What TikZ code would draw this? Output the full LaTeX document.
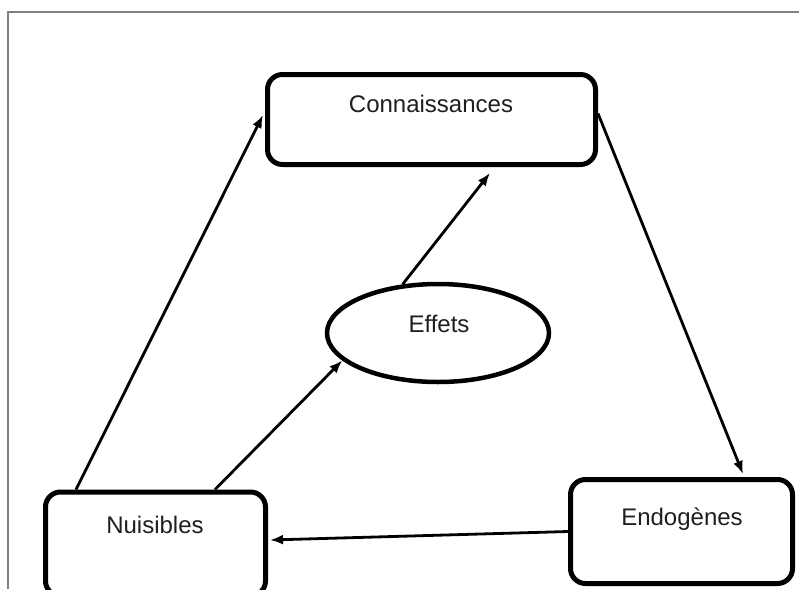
\documentclass[tikz,border=0pt]{standalone}
\usepackage{fontspec}
\setmainfont{Liberation Sans}
\usetikzlibrary{arrows.meta,shapes.geometric}
\begin{document}
\begin{tikzpicture}[x=1pt,y=-1pt,
  box/.style={draw=black,line width=5pt,rounded corners=15pt,fill=white,inner sep=0pt},
  oval/.style={ellipse,draw=black,line width=4.5pt,fill=white,inner sep=0pt},
  lbl/.style={font=\fontsize{24}{28}\selectfont,text=black!88,anchor=base,inner sep=0pt},
  conn/.style={line width=2.8pt,-{Latex[length=13pt,width=10pt]}},
  frameline/.style={draw=black!50,line width=2pt}]
\useasboundingbox (0,0) rectangle (799,589);
\fill[white] (0,0) rectangle (799,589);
% outer frame (left and top edges visible)
\coordinate (fa) at (8,589);
\coordinate (fb) at (8,12);
\coordinate (fc) at (800,12);
\draw[frameline] (fa) -- (fb) -- (fc);
% boxes
\node[box,minimum width=328pt,minimum height=90pt] (con) at (431.5,119.5) {};
\node[box,minimum width=220pt,minimum height=104pt] (nui) at (155.5,544) {};
\node[box,minimum width=222pt,minimum height=104pt] (endo) at (681.5,531.5) {};
\node[oval,minimum width=222pt,minimum height=98pt] (eff) at (438,333) {};
% labels
\node[lbl] (conT) at (431,112) {Connaissances};
\node[lbl] (nuiT) at (155,533) {Nuisibles};
\node[lbl] (endoT) at (682,525) {Endogènes};
\node[lbl] (effT) at (439,332) {Effets};
% connectors
\draw[conn] ([xshift=33pt]nui.north west) -- ([xshift=-2pt,yshift=4.5pt]con.west);
\draw[conn] ([xshift=172pt]nui.north west) -- (eff.196);
\draw[conn] (eff.126) -- ([xshift=58.5pt,yshift=-6pt]con.south);
\draw[conn] ([yshift=6pt]con.east) -- ([xshift=61.5pt,yshift=3pt]endo.north);
\draw[conn] (endo.west) -- ([xshift=2pt,yshift=4pt]nui.east);
\end{tikzpicture}
\end{document}
